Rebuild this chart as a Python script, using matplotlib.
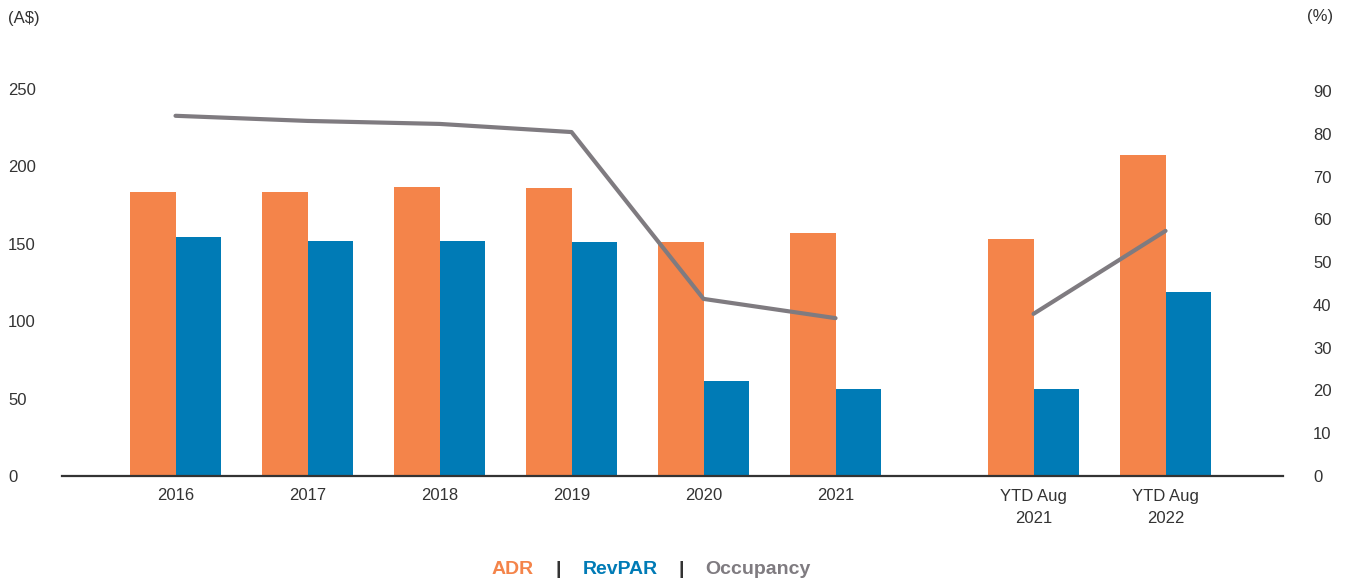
import matplotlib.pyplot as plt
import numpy as np

# Hotel metrics by period
periods = ['2016', '2017', '2018', '2019', '2020', '2021', 'YTD Aug\n2021', 'YTD Aug\n2022']
adr = [183.5, 183.5, 186.7, 186.0, 151.0, 157.0, 153.0, 207.4]
revpar = [154.4, 151.8, 151.8, 151.0, 61.4, 56.2, 56.2, 118.9]
occupancy = [84.2, 83.0, 82.3, 80.4, 41.4, 36.9, 37.9, 57.3]

ORANGE = '#F4844A'
BLUE = '#007BB6'
GREY = '#7F7B80'
TEXT = '#333333'

plt.rcParams['font.family'] = ['Liberation Sans', 'DejaVu Sans']

# full years, then a gap before the year-to-date pair
xpos = np.array([0, 1, 2, 3, 4, 5, 6.5, 7.5])
width = 0.345

W, H = 1345, 580
fig = plt.figure(figsize=(W / 100, H / 100), dpi=100)
ax = fig.add_axes([62 / W, (H - 476) / H, (1283 - 62) / W, 426 / H])

ax.bar(xpos - width / 2, adr, width, color=ORANGE, zorder=2)
ax.bar(xpos + width / 2, revpar, width, color=BLUE, zorder=2)
ax.set_xlim(-0.86, 8.39)
ax.set_ylim(0, 426 / 1.548)
ax.set_yticks(range(0, 251, 50))
ax.set_xticks(xpos)
ax.set_xticklabels(periods, fontsize=12, color=TEXT, linespacing=1.6)
ax.tick_params(axis='x', length=0, pad=9)
ax.tick_params(axis='y', length=0, pad=38.9, labelsize=12, labelcolor=TEXT)
for lbl in ax.get_yticklabels():
    lbl.set_ha('left')
for s in ['top', 'right', 'left']:
    ax.spines[s].set_visible(False)
ax.spines['bottom'].set_color(TEXT)
ax.spines['bottom'].set_linewidth(1.6)

# occupancy on the right axis, line broken between the two groups
ax2 = ax.twinx()
ax2.plot(xpos[:6], occupancy[:6], color=GREY, lw=3, solid_capstyle='round', zorder=3)
ax2.plot(xpos[6:], occupancy[6:], color=GREY, lw=3, solid_capstyle='round', zorder=3)
ax2.set_ylim(0, 426 / 4.278)
ax2.set_yticks(range(0, 91, 10))
ax2.tick_params(axis='y', length=0, pad=21.6, labelsize=12, labelcolor=TEXT)
for s in ['top', 'right', 'left', 'bottom']:
    ax2.spines[s].set_visible(False)

fig.text(8 / W, 1 - 18 / H, '(A$)', fontsize=12, color=TEXT, ha='left', va='center')
fig.text(1307 / W, 1 - 16 / H, '(%)', fontsize=12, color=TEXT, ha='left', va='center')

# text legend along the bottom
ly = 1 - 569 / H
fig.text(513 / W, ly, 'ADR', fontsize=14, fontweight='bold', color=ORANGE, ha='center', va='center')
fig.text(558 / W, ly, '|', fontsize=14, fontweight='bold', color=TEXT, ha='center', va='center')
fig.text(620 / W, ly, 'RevPAR', fontsize=14, fontweight='bold', color=BLUE, ha='center', va='center')
fig.text(681 / W, ly, '|', fontsize=14, fontweight='bold', color=TEXT, ha='center', va='center')
fig.text(758 / W, ly, 'Occupancy', fontsize=14, fontweight='bold', color=GREY, ha='center', va='center')

fig.savefig('out.png', dpi=100)
